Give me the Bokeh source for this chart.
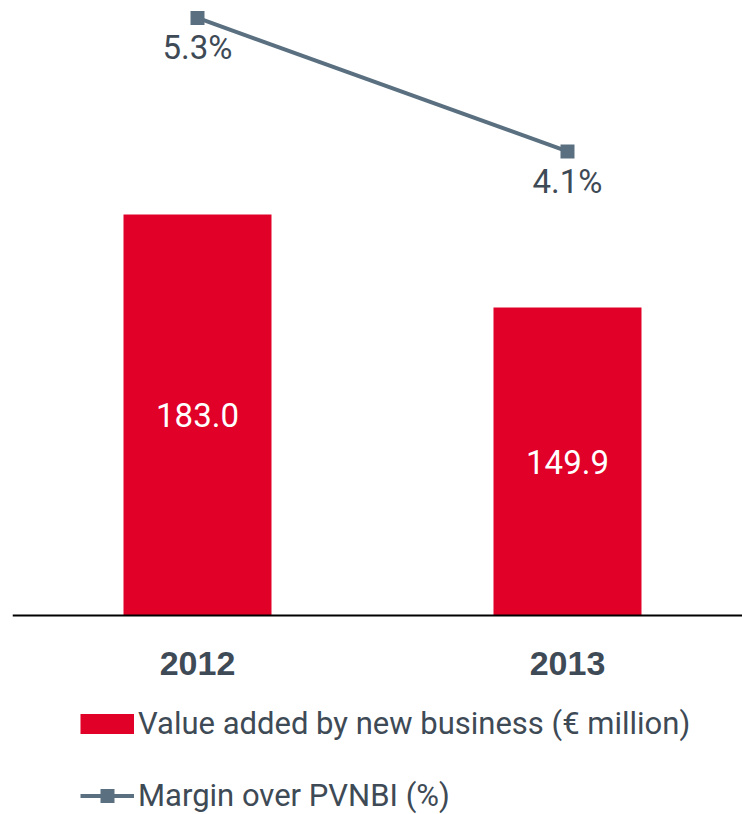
from bokeh.plotting import figure
from bokeh.models import Range1d, Legend, LegendItem, ColumnDataSource, Span
from bokeh.core.properties import value
from bokeh.embed import file_html
from bokeh.resources import INLINE

years = ["2012", "2013"]
value_added = [183.0, 149.9]
margin_pct = [5.3, 4.1]
value_labels = ["183.0", "149.9"]
margin_labels = ["5.3%", "4.1%"]
series_names = ["Value added by new business (€ million)", "Margin over PVNBI (%)"]

RED = "#E00028"
LINE = "#5A7080"
TEXT = "#3E4A55"

xs = list(range(len(years)))
base = 40.3

src = ColumnDataSource(dict(
    x=xs, top=value_added, mid=[(v + base) / 2 for v in value_added],
    vlab=value_labels, pct=margin_pct, plab=margin_labels,
    year=years, base=[base] * len(years)))

p = figure(width=742, height=814, output_backend="svg", toolbar_location=None,
           x_range=Range1d(-0.5, 1.473), y_range=Range1d(-30.55, 259.2),
           min_border_left=12, min_border_right=0, min_border_top=0,
           min_border_bottom=0)
p.extra_y_ranges = {"pct": Range1d(-1.86, 5.457)}

p.outline_line_color = None
p.grid.visible = False
p.xaxis.visible = False
p.yaxis.visible = False
p.background_fill_color = None
p.border_fill_color = None

bars = p.vbar(x="x", top="top", bottom="base", width=0.4, source=src,
              fill_color=RED, line_color=None)
p.add_layout(Span(location=base, dimension="width", line_color="black",
                  line_width=2))
p.text(x="x", y="mid", text="vlab", source=src, text_color="white",
       text_align="center", text_baseline="middle",
       text_font=value("Roboto"), text_font_size="33px")

# category labels under the baseline
p.text(x="x", y="base", text="year", source=src, text_color=TEXT,
       text_align="center", text_baseline="middle", y_offset=48,
       text_font=value("Liberation Sans"), text_font_style="bold",
       text_font_size="34px")

ln = p.line(x="x", y="pct", source=src, y_range_name="pct",
            line_color=LINE, line_width=4)
mk = p.scatter(x="x", y="pct", source=src, y_range_name="pct", marker="square",
               size=14, fill_color=LINE, line_color=None)
p.text(x="x", y="pct", text="plab", source=src, y_range_name="pct",
       text_color=TEXT, text_align="center", text_baseline="middle",
       y_offset=30, text_font=value("Roboto"), text_font_size="33px")

# legend-only swatch for the bars (thick red stroke -> 54x20 block); draws nothing in the plot
nan = float("nan")
bar_swatch = p.line(x=[nan], y=[nan], line_color=RED, line_width=20, line_cap="butt")

legend = Legend(items=[
    LegendItem(label=series_names[0], renderers=[bar_swatch]),
    LegendItem(label=series_names[1], renderers=[ln, mk]),
], location=(68, 0), orientation="vertical")
legend.border_line_color = None
legend.background_fill_color = None
legend.padding = 0
legend.margin = 0
legend.spacing = 35
legend.glyph_width = 54
legend.glyph_height = 35
legend.label_height = 20
legend.label_standoff = 4
legend.label_text_font = "Roboto"
legend.label_text_font_size = "31px"
legend.label_text_color = TEXT
p.add_layout(legend, "center")

open("out.html", "w").write(file_html(p, INLINE))
